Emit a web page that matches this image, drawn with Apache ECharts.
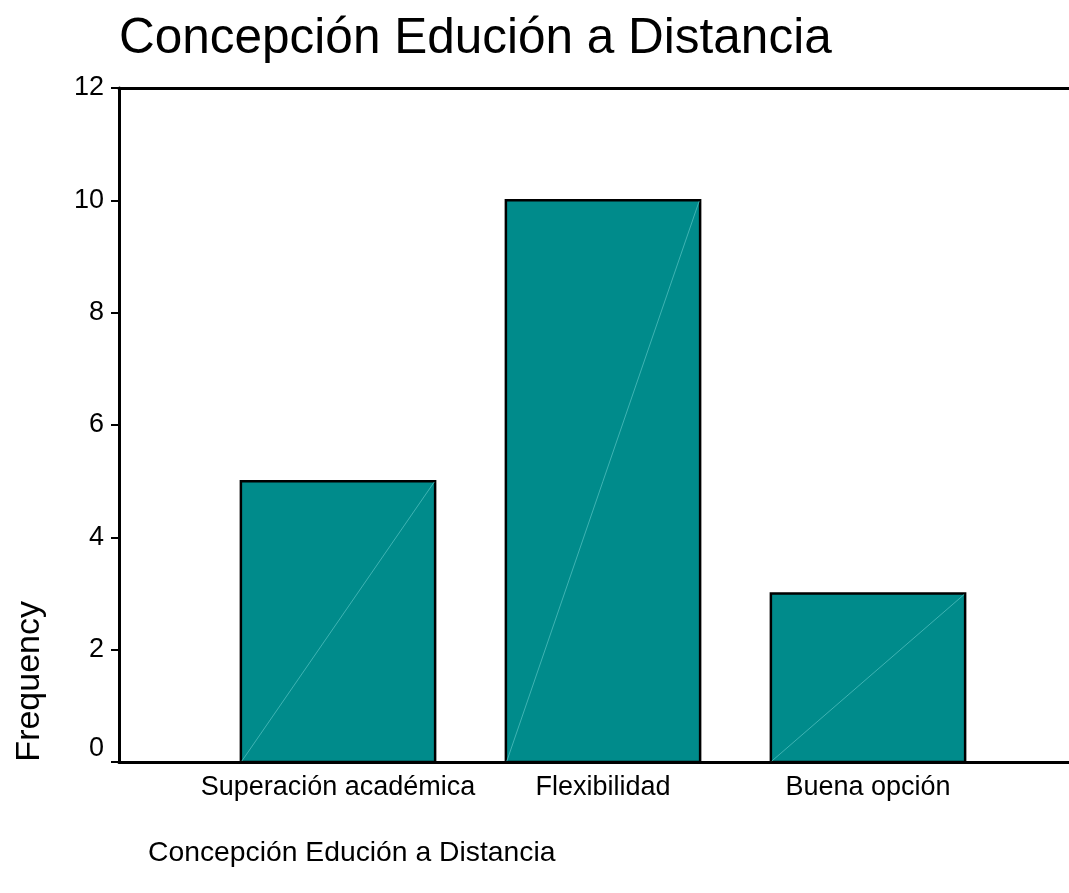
<!DOCTYPE html>
<html>
<head>
<meta charset="utf-8">
<script src="https://cdn.jsdelivr.net/npm/echarts@6/dist/echarts.min.js"></script>
<style>html,body{margin:0;padding:0;background:#fff}#c{width:1069px;height:893px}</style>
</head>
<body>
<div id="c"></div>
<script>
const categories = ['Superación académica', 'Flexibilidad', 'Buena opción'];
const frequencies = [5, 10, 3];
const yTicks = [0, 2, 4, 6, 8, 10, 12];

const FONT = '"Liberation Sans", Arial, sans-serif';
const chart = echarts.init(document.getElementById('c'), null, {renderer: 'canvas'});

const option = {
  backgroundColor: '#ffffff',
  animation: false,
  title: [
    {text: 'Concepción Edución a Distancia', left: 114, top: 9,
     textStyle: {fontFamily: FONT, fontSize: 49.5, fontWeight: 'normal', color: '#000'}},
    {text: 'Concepción Edución a Distancia', left: 143, top: 834,
     textStyle: {fontFamily: FONT, fontSize: 28.3, fontWeight: 'normal', color: '#000'}}
  ],
  graphic: [{
    type: 'text', left: 13, top: 601, rotation: Math.PI / 2,
    style: {text: 'Frequency', font: '34px ' + FONT, fill: '#000'}
  }],
  grid: [
    {left: 119, right: 0, top: 88, bottom: 131},
    {left: 205.5, width: 795, top: 88, height: 674}
  ],
  xAxis: [
    {gridIndex: 0, type: 'value', min: 0, max: 1, position: 'bottom',
     axisLine: {show: true, lineStyle: {color: '#000', width: 3}},
     axisTick: {show: false}, axisLabel: {show: false}, splitLine: {show: false}},
    {gridIndex: 0, type: 'value', min: 0, max: 1, position: 'top',
     axisLine: {show: true, lineStyle: {color: '#000', width: 3}},
     axisTick: {show: false}, axisLabel: {show: false}, splitLine: {show: false}},
    {gridIndex: 1, type: 'category', data: categories,
     axisLine: {show: false}, axisTick: {show: false},
     axisLabel: {fontFamily: FONT, fontSize: 27, color: '#000', margin: 12, interval: 0}}
  ],
  yAxis: [
    {gridIndex: 0, type: 'value', min: 0, max: 12, interval: 2,
     axisLine: {show: true, lineStyle: {color: '#000', width: 3}},
     axisTick: {show: true, length: 8, lineStyle: {color: '#000', width: 2}},
     splitLine: {show: false},
     axisLabel: {
       fontFamily: FONT, fontSize: 27, color: '#000', margin: 15,
       formatter: function (v) { return v === 0 ? '{z|0}' : String(v); },
       rich: {z: {fontFamily: FONT, fontSize: 27, color: '#000', padding: [0, 0, 26, 0]}}
     }},
    {gridIndex: 1, type: 'value', min: 0, max: 12, show: false}
  ],
  series: [{
    type: 'custom',
    xAxisIndex: 2, yAxisIndex: 1,
    data: frequencies.map((v, i) => [i, v]),
    renderItem: function (params, api) {
      const idx = api.value(0), val = api.value(1);
      const top = api.coord([idx, val]);
      const base = api.coord([idx, 0]);
      const w = api.size([1, 0])[0] * 0.733;
      const x0 = top[0] - w / 2, x1 = top[0] + w / 2;
      return {
        type: 'group',
        children: [
          {type: 'rect', shape: {x: x0, y: top[1], width: w, height: base[1] - top[1]},
           style: {fill: '#008b8b', stroke: '#000', lineWidth: 2.5}},
          {type: 'line', shape: {x1: x0 + 1, y1: base[1] - 1, x2: x1 - 1, y2: top[1] + 1},
           style: {stroke: '#3fb3b3', lineWidth: 1}}
        ]
      };
    }
  }]
};
chart.setOption(option);
</script>
</body>
</html>
